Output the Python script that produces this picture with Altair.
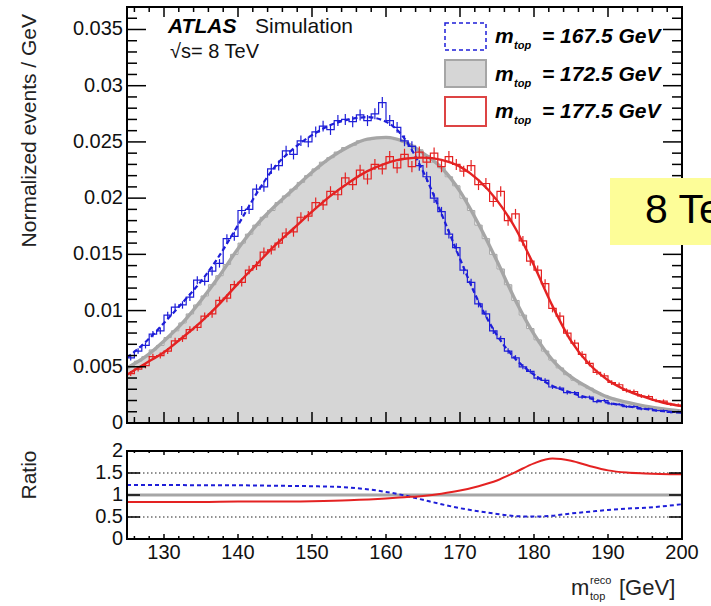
import altair as alt
import pandas as pd

# ---------------- data (values in units of 1e-3 / GeV) ----------------
bin_lo = list(range(125, 200))  # 1 GeV bins, 125..200

blue_hist = [5.8, 6.4, 6.9, 7.9, 8.2, 9.6, 10.3, 10.5, 11.2, 12.7,
             12.6, 13.5, 14.2, 16.4, 16.6, 18.9, 19.0, 20.8, 21.0, 22.6,
             22.9, 24.2, 23.9, 25.1, 25.0, 25.9, 26.4, 26.1, 26.9, 27.0,
             26.8, 27.4, 26.9, 27.5, 28.5, 26.9, 26.3, 25.1, 24.6, 22.9,
             21.9, 20.0, 18.8, 16.8, 15.6, 13.6, 12.5, 10.6, 9.7, 8.2,
             7.5, 6.4, 5.8, 5.0, 4.6, 4.0, 3.8, 3.2, 3.1, 2.7,
             2.7, 2.3, 2.3, 1.9, 2.0, 1.7, 1.65, 1.45, 1.45, 1.25,
             1.25, 1.1, 1.1, 0.95, 1.0]
blue_err = [0.25, 0.25, 0.27, 0.28, 0.3, 0.3, 0.32, 0.33, 0.34, 0.35,
            0.36, 0.37, 0.38, 0.39, 0.4, 0.41, 0.42, 0.43, 0.44, 0.45,
            0.45, 0.46, 0.46, 0.47, 0.47, 0.48, 0.48, 0.48, 0.49, 0.49,
            0.49, 0.49, 0.49, 0.49, 0.49, 0.49, 0.48, 0.48, 0.47, 0.46,
            0.45, 0.44, 0.42, 0.4, 0.38, 0.36, 0.34, 0.32, 0.3, 0.28,
            0.26, 0.25, 0.23, 0.22, 0.2, 0.19, 0.18, 0.17, 0.16, 0.16,
            0.15, 0.15, 0.14, 0.14, 0.13, 0.13, 0.12, 0.12, 0.12, 0.11,
            0.11, 0.1, 0.1, 0.1, 0.1]

red_hist = [4.4, 4.8, 5.1, 5.9, 6.0, 6.4, 7.3, 7.5, 8.3, 8.5,
            9.5, 9.7, 10.9, 11.1, 12.3, 12.5, 13.6, 14.0, 15.2, 15.4,
            16.0, 16.9, 17.0, 18.3, 18.4, 19.6, 19.4, 20.6, 20.3, 21.8,
            21.2, 22.5, 21.7, 23.0, 22.6, 23.7, 22.7, 23.9, 22.8, 24.1,
            23.2, 24.0, 22.8, 23.7, 23.0, 22.4, 22.9, 21.2, 21.3, 19.7,
            20.6, 18.0, 18.6, 16.2, 14.4, 13.6, 12.4, 10.2, 9.5, 8.0,
            7.1, 6.1, 5.3, 4.5, 4.2, 3.6, 3.4, 2.9, 2.8, 2.4,
            2.35, 2.0, 1.95, 1.65, 1.6]
red_err = [0.22, 0.23, 0.24, 0.25, 0.26, 0.27, 0.28, 0.29, 0.3, 0.31,
           0.32, 0.33, 0.34, 0.35, 0.36, 0.37, 0.38, 0.39, 0.4, 0.41,
           0.42, 0.43, 0.43, 0.44, 0.45, 0.45, 0.46, 0.46, 0.47, 0.47,
           0.48, 0.48, 0.48, 0.49, 0.49, 0.49, 0.49, 0.49, 0.5, 0.5,
           0.5, 0.5, 0.5, 0.5, 0.49, 0.49, 0.49, 0.48, 0.48, 0.47,
           0.46, 0.45, 0.44, 0.43, 0.41, 0.4, 0.38, 0.36, 0.34, 0.32,
           0.3, 0.28, 0.26, 0.24, 0.22, 0.21, 0.2, 0.19, 0.18, 0.17,
           0.16, 0.15, 0.15, 0.14, 0.14]

gray_hist = [5.1, 5.5, 5.9, 6.5, 6.9, 7.6, 8.2, 8.9, 9.7, 10.5,
             11.3, 12.3, 13.1, 14.1, 15.0, 16.0, 16.8, 17.6, 18.3, 18.9,
             19.6, 20.2, 20.8, 21.4, 22.0, 22.6, 23.2, 23.6, 24.1, 24.5,
             24.7, 25.1, 25.2, 25.4, 25.4, 25.3, 25.2, 25.0, 24.7, 24.3,
             23.8, 23.2, 22.7, 21.9, 21.1, 20.0, 18.9, 17.6, 16.4, 15.0,
             13.7, 12.3, 10.9, 9.6, 8.4, 7.4, 6.4, 5.6, 4.9, 4.3,
             3.8, 3.4, 3.1, 2.7, 2.45, 2.2, 2.0, 1.85, 1.7, 1.55,
             1.45, 1.35, 1.25, 1.15, 1.1]

fit_x = [125, 127.5, 130, 132.5, 135, 137.5, 140, 142.5, 145, 147.5, 150,
         152.5, 155, 157.5, 160, 162.5, 165, 167.5, 170, 172.5, 175,
         177.5, 180, 182.5, 185, 187.5, 190, 192.5, 195, 197.5, 200]
blue_fit = [5.8, 7.2, 8.9, 10.7, 12.6, 14.9, 17.6, 20.4, 22.8, 24.4, 25.6,
            26.5, 27.0, 27.2, 26.8, 25.3, 22.4, 18.6, 14.6, 10.8, 7.8,
            5.7, 4.3, 3.3, 2.7, 2.2, 1.8, 1.5, 1.25, 1.05, 0.9]
gray_fit = [4.9, 5.9, 7.3, 8.9, 10.9, 13.1, 15.5, 17.6, 19.3, 20.8, 22.3,
            23.6, 24.6, 25.25, 25.4, 25.0, 24.0, 22.7, 20.6, 17.7, 14.4,
            10.9, 7.9, 5.6, 4.1, 3.1, 2.3, 1.85, 1.5, 1.25, 1.05]
red_fit = [4.3, 5.3, 6.3, 7.6, 9.0, 10.6, 12.4, 14.1, 15.8, 17.3, 18.8,
           20.2, 21.4, 22.4, 23.1, 23.5, 23.6, 23.4, 22.8, 21.6, 19.8,
           17.3, 14.0, 10.4, 7.3, 5.2, 3.8, 2.9, 2.3, 1.8, 1.5]

ratio_x = [125, 130, 135, 140, 145, 150, 155, 160, 162.5, 165, 167.5, 170,
           172.5, 175, 177.5, 180, 182.5, 185, 187.5, 190, 192.5, 195, 200]
blue_ratio = [1.23, 1.23, 1.22, 1.22, 1.21, 1.2, 1.17, 1.07, 0.99, 0.89, 0.79, 0.7,
              0.63, 0.57, 0.52, 0.51, 0.53, 0.58, 0.62, 0.66, 0.69, 0.71, 0.79]
red_ratio = [0.84, 0.84, 0.84, 0.85, 0.85, 0.86, 0.88, 0.92, 0.95, 0.98, 1.03, 1.1,
             1.2, 1.33, 1.52, 1.72, 1.83, 1.78, 1.66, 1.56, 1.51, 1.49, 1.47]

y_major = [0, 5, 10, 15, 20, 25, 30, 35]
y_labels = ["0", "0.005", "0.01", "0.015", "0.02", "0.025", "0.03", "0.035"]
y_minor = [1, 2, 3, 4, 6, 7, 8, 9, 11, 12, 13, 14, 16, 17, 18, 19, 21, 22, 23, 24,
           26, 27, 28, 29, 31, 32, 33, 34, 36]
x_major = [130, 140, 150, 160, 170, 180, 190, 200]
x_labels = ["130", "140", "150", "160", "170", "180", "190", "200"]
x_minor = [126, 128, 132, 134, 136, 138, 142, 144, 146, 148, 152, 154, 156, 158,
           162, 164, 166, 168, 172, 174, 176, 178, 182, 184, 186, 188, 192, 194,
           196, 198]
r_major = [0, 0.5, 1, 1.5, 2]
r_labels = ["0", "0.5", "1", "1.5", "2"]
r_dotted = [0.5, 1, 1.5]
r_nominal = [1]

# ---------------- styling ----------------
FONT = "Liberation Sans"
BLUE = "#1e1ed8"
RED = "#e42222"
GRAY = "#a6a6a6"
FILL = "#d6d6d6"

xs = alt.Scale(domain=[125, 200], range=[127, 682], nice=False, zero=False)
ys = alt.Scale(domain=[0, 37], range=[423, 7], nice=False, zero=False)
yr = alt.Scale(domain=[0, 2], range=[539, 451], nice=False, zero=False)


def X(f):
    return alt.X(f, type="quantitative", scale=xs, axis=None)


def YT(f):
    return alt.Y(f, type="quantitative", scale=ys, axis=None)


def YR(f):
    return alt.Y(f, type="quantitative", scale=yr, axis=None)


step_df = pd.DataFrame({
    "lo": bin_lo + [200],
    "blue": blue_hist + [blue_hist[-1]],
    "red": red_hist + [red_hist[-1]],
    "gray": gray_hist + [gray_hist[-1]],
})
err_df = pd.DataFrame({
    "c": [b + 0.5 for b in bin_lo],
    "b_lo": [v - e for v, e in zip(blue_hist, blue_err)],
    "b_hi": [v + e for v, e in zip(blue_hist, blue_err)],
    "r_lo": [v - e for v, e in zip(red_hist, red_err)],
    "r_hi": [v + e for v, e in zip(red_hist, red_err)],
})
fit_df = pd.DataFrame({"m": fit_x, "blue": blue_fit, "gray": gray_fit, "red": red_fit})
ratio_df = pd.DataFrame({"m": ratio_x, "blue": blue_ratio, "red": red_ratio})

layers = []

# ---- main panel ----
layers.append(alt.Chart(step_df).mark_area(interpolate="step-after", color=FILL).encode(
    x=X("lo"), y=YT("gray"), y2=alt.datum(0)))
layers.append(alt.Chart(step_df).mark_line(interpolate="step-after", color=GRAY, strokeWidth=1).encode(
    x=X("lo"), y=YT("gray")))
layers.append(alt.Chart(fit_df).mark_line(interpolate="monotone", color=GRAY, strokeWidth=3.4).encode(
    x=X("m"), y=YT("gray")))

layers.append(alt.Chart(step_df).mark_line(interpolate="step-after", color=BLUE, strokeWidth=1.2).encode(
    x=X("lo"), y=YT("blue")))
layers.append(alt.Chart(err_df).mark_rule(color=BLUE, strokeWidth=1.2).encode(
    x=X("c"), y=YT("b_lo"), y2="b_hi"))
layers.append(alt.Chart(fit_df).mark_line(interpolate="monotone", color=BLUE, strokeWidth=2.2,
                                          strokeDash=[5, 3]).encode(x=X("m"), y=YT("blue")))

layers.append(alt.Chart(step_df).mark_line(interpolate="step-after", color=RED, strokeWidth=1.2).encode(
    x=X("lo"), y=YT("red")))
layers.append(alt.Chart(err_df).mark_rule(color=RED, strokeWidth=1.2).encode(
    x=X("c"), y=YT("r_lo"), y2="r_hi"))
layers.append(alt.Chart(fit_df).mark_line(interpolate="monotone", color=RED, strokeWidth=2.4).encode(
    x=X("m"), y=YT("red")))

# ticks, main panel
ymaj = pd.DataFrame({"v": y_major, "t": y_labels})
ymin = pd.DataFrame({"v": y_minor})
xmaj = pd.DataFrame({"m": x_major, "t": x_labels})
xmin = pd.DataFrame({"m": x_minor})


def yticks(df, scale_fn, x1, x2, w=1.5):
    return alt.Chart(df).mark_rule(color="black", strokeWidth=w).encode(
        y=scale_fn("v"), x=alt.value(x1), x2=alt.value(x2))


def xticks(df, y1, y2, w=1.5):
    return alt.Chart(df).mark_rule(color="black", strokeWidth=w).encode(
        x=X("m"), y=alt.value(y1), y2=alt.value(y2))


layers += [
    yticks(ymaj, YT, 127, 146), yticks(ymin, YT, 127, 137),
    yticks(ymaj, YT, 663, 682), yticks(ymin, YT, 672, 682),
    xticks(xmaj, 423, 412), xticks(xmin, 423, 417),
    xticks(xmaj, 7, 17), xticks(xmin, 7, 12),
]
layers.append(alt.Chart(ymaj).mark_text(align="right", baseline="middle", fontSize=20, font=FONT,
                                        color="#111").encode(
    y=YT("v"), x=alt.value(123), text="t:N"))

# ---- ratio panel ----
rdot = pd.DataFrame({"v": r_dotted})
layers.append(alt.Chart(rdot).mark_rule(color="#222", strokeWidth=1, strokeDash=[1.5, 2.5]).encode(
    y=YR("v"), x=alt.value(127), x2=alt.value(682)))
rnom = pd.DataFrame({"v": r_nominal})
layers.append(alt.Chart(rnom).mark_rule(color=GRAY, strokeWidth=3).encode(
    y=YR("v"), x=alt.value(128), x2=alt.value(681)))
layers.append(alt.Chart(ratio_df).mark_line(interpolate="monotone", color=BLUE, strokeWidth=2,
                                            strokeDash=[4, 3]).encode(x=X("m"), y=YR("blue")))
layers.append(alt.Chart(ratio_df).mark_line(interpolate="monotone", color=RED, strokeWidth=2).encode(
    x=X("m"), y=YR("red")))

rmaj = pd.DataFrame({"v": r_major, "t": r_labels})
layers += [
    yticks(rmaj, YR, 127, 140), yticks(rmaj, YR, 669, 682),
    xticks(xmaj, 539, 534), xticks(xmin, 539, 536),
    xticks(xmaj, 451, 455), xticks(xmin, 451, 453),
]
layers.append(alt.Chart(rmaj).mark_text(align="right", baseline="middle", fontSize=20, font=FONT,
                                        color="#111").encode(
    y=YR("v"), x=alt.value(123), text="t:N"))
layers.append(alt.Chart(xmaj).mark_text(align="center", baseline="top", fontSize=20, font=FONT,
                                        color="#111").encode(
    x=X("m"), y=alt.value(543), text="t:N"))

# frames (drawn through the scales' domains)
layers.append(alt.Chart(alt.Data(values=[{}])).mark_rect(fillOpacity=0, stroke="black", strokeWidth=2).encode(
    x=alt.XDatum(125, scale=xs, axis=None), x2=alt.datum(200),
    y=alt.YDatum(0, scale=ys, axis=None), y2=alt.datum(37)))
layers.append(alt.Chart(alt.Data(values=[{}])).mark_rect(fillOpacity=0, stroke="black", strokeWidth=2).encode(
    x=alt.XDatum(125, scale=xs, axis=None), x2=alt.datum(200),
    y=alt.YDatum(0, scale=yr, axis=None), y2=alt.datum(2)))


# ---- annotations ----
def txt(s, x, y, size, weight="normal", style="normal", align="left", baseline="alphabetic",
        angle=0, color="#111"):
    return alt.Chart(alt.Data(values=[{"t": s}])).mark_text(
        align=align, baseline=baseline, fontSize=size, font=FONT, fontWeight=weight,
        fontStyle=style, angle=angle, color=color).encode(
        x=alt.value(x), y=alt.value(y), text="t:N")


def box(x1, x2, y1, y2, **kw):
    return alt.Chart(alt.Data(values=[{}])).mark_rect(**kw).encode(
        x=alt.value(x1), x2=alt.value(x2), y=alt.value(y1), y2=alt.value(y2))


layers += [
    txt("ATLAS", 168, 33, 21, weight="bold", style="italic", color="black"),
    txt("Simulation", 255, 33, 21, color="#111"),
    txt("√s= 8 TeV", 170, 58, 20, color="#111"),
    txt("Normalized events / GeV", 36, 14, 21, align="right", angle=270, color="#222"),
    txt("Ratio", 36, 475, 21, align="center", angle=270, color="#222"),
    txt("m", 571, 595, 22, color="#222"),
    txt("reco", 590, 584, 11, color="#222"),
    txt("top", 590, 600, 11, color="#222"),
    txt("[GeV]", 619, 595, 22, color="#222"),
]

legend_rows = [("167.5", 43), ("172.5", 81), ("177.5", 118)]
layers += [
    box(445, 486, 23, 50, fillOpacity=0, stroke=BLUE, strokeWidth=1.5, strokeDash=[4, 3]),
    box(445, 486, 60, 87, fill=FILL, stroke=GRAY, strokeWidth=2),
    box(445, 486, 97, 126, fillOpacity=0, stroke="#dd4444", strokeWidth=2),
]
for val, yb in legend_rows:
    layers += [
        txt("m", 495, yb, 21, weight="bold", style="italic", color="black"),
        txt("top", 514, yb + 6, 11, weight="bold", style="italic", color="black"),
        txt("= " + val + " GeV", 542, yb, 21, weight="bold", style="italic", color="black"),
    ]

# yellow overlay box
layers += [
    box(610, 711, 178, 245, fill="#fdfd98"),
    txt("8 TeV", 645, 223, 41, color="black"),
]

chart = alt.layer(*layers).properties(
    width=711, height=606,
    autosize=alt.AutoSizeParams(type="none"),
    padding=0,
    background="white",
).resolve_scale(y="independent").configure_view(stroke=None)

chart.save("out.html", embed_options={"renderer": "svg", "actions": False})
